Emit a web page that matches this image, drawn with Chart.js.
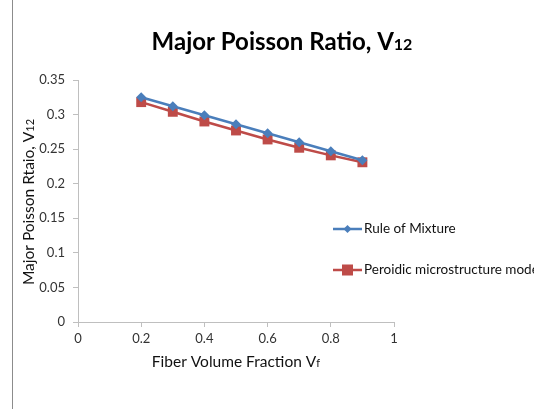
<!DOCTYPE html>
<html>
<head>
<meta charset="utf-8">
<script src="https://cdn.jsdelivr.net/npm/chart.js@4"></script>
<style>
  html, body { margin: 0; padding: 0; background: #fff; }
  #wrap { width: 534px; height: 409px; position: relative; }
</style>
</head>
<body>
<div id="wrap"><canvas id="chart" width="534" height="409"></canvas></div>
<script>
// ===== data =====
const fiberFraction = [0.2, 0.3, 0.4, 0.5, 0.6, 0.7, 0.8, 0.9];
const ruleOfMixture = [0.325, 0.312, 0.299, 0.286, 0.273, 0.260, 0.247, 0.234];
const periodicModel = [0.318, 0.304, 0.290, 0.277, 0.264, 0.252, 0.241, 0.231];
const xTicks = [0, 0.2, 0.4, 0.6, 0.8, 1];
const yTicks = [0, 0.05, 0.1, 0.15, 0.2, 0.25, 0.3, 0.35];
const seriesNames = ['Rule of Mixture', 'Peroidic microstructure mode'];

const FONT = 'Lato, "Open Sans", sans-serif';
const blue = '#4a7ebb';
const red = '#be4b48';

function pts(ys) {
  return fiberFraction.map((x, i) => ({ x: x, y: ys[i] }));
}

// draw "V" + smaller subscript
function drawSub(ctx, base, sub, x, y, size, bold) {
  const w = bold ? 'bold ' : '';
  ctx.font = w + size + 'px ' + FONT;
  const bw = ctx.measureText(base).width;
  ctx.font = w + Math.round(size * 0.68) + 'px ' + FONT;
  const sw = ctx.measureText(sub).width;
  let start = x - (bw + sw) / 2;
  ctx.textAlign = 'left';
  ctx.textBaseline = 'alphabetic';
  ctx.font = w + size + 'px ' + FONT;
  ctx.fillText(base, start, y);
  ctx.font = w + Math.round(size * 0.68) + 'px ' + FONT;
  ctx.fillText(sub, start + bw, y);
}

const extras = {
  id: 'extras',
  afterDraw(chart) {
    const ctx = chart.ctx;
    ctx.save();
    // chart area border on the left
    ctx.strokeStyle = '#8c8c8c';
    ctx.lineWidth = 1;
    ctx.beginPath();
    ctx.moveTo(12.5, 0);
    ctx.lineTo(12.5, 409);
    ctx.stroke();

    ctx.fillStyle = '#000';
    drawSub(ctx, 'Major Poisson Ratio, V', '12', 282, 50, 24, true);

    ctx.fillStyle = '#111';
    drawSub(ctx, 'Fiber Volume Fraction V', 'f', 236, 367, 15.5, false);

    ctx.translate(34, 202);
    ctx.rotate(-Math.PI / 2);
    drawSub(ctx, 'Major Poisson Rtaio, V', '12', 0, 0, 15.5, false);
    ctx.restore();

    // legend
    ctx.save();
    const items = [
      { y: 229, color: blue, shape: 'diamond' },
      { y: 270, color: red, shape: 'square' }
    ];
    items.forEach((it, i) => {
      ctx.strokeStyle = it.color;
      ctx.fillStyle = it.color;
      ctx.lineWidth = 2.5;
      ctx.beginPath();
      ctx.moveTo(333, it.y);
      ctx.lineTo(362, it.y);
      ctx.stroke();
      if (it.shape === 'diamond') {
        ctx.beginPath();
        ctx.moveTo(347.5, it.y - 4);
        ctx.lineTo(351.5, it.y);
        ctx.lineTo(347.5, it.y + 4);
        ctx.lineTo(343.5, it.y);
        ctx.closePath();
        ctx.fill();
      } else {
        ctx.fillRect(342, it.y - 5.5, 11, 11);
      }
      ctx.fillStyle = '#111';
      ctx.font = '13.5px ' + FONT;
      ctx.textAlign = 'left';
      ctx.textBaseline = 'middle';
      ctx.fillText(seriesNames[i], 364, it.y);
    });
    ctx.restore();
  }
};

const chart = document.getElementById('chart');

new Chart(chart, {
  type: 'line',
  data: {
    datasets: [
      {
        label: seriesNames[0],
        data: pts(ruleOfMixture),
        borderColor: blue,
        backgroundColor: blue,
        borderWidth: 2.5,
        pointStyle: 'rectRot',
        pointRadius: 5,
        pointBorderWidth: 0
      },
      {
        label: seriesNames[1],
        data: pts(periodicModel),
        borderColor: red,
        backgroundColor: red,
        borderWidth: 2.5,
        pointStyle: 'rect',
        pointRadius: 7,
        pointBorderWidth: 0
      }
    ]
  },
  options: {
    responsive: false,
    animation: false,
    layout: { padding: { left: 0, top: 80, right: 140, bottom: 0 } },
    plugins: {
      legend: { display: false },
      title: { display: false },
      tooltip: { enabled: false }
    },
    scales: {
      x: {
        type: 'linear',
        min: 0,
        max: 1,
        afterBuildTicks: s => { s.ticks = xTicks.map(v => ({ value: v })); },
        afterFit: s => { s.height = 87; },
        grid: { drawOnChartArea: false, drawTicks: true, tickLength: 5, color: '#bfbfbf' },
        border: { color: '#bfbfbf' },
        ticks: {
          padding: 4,
          color: '#333',
          font: { family: FONT, size: 13 },
          maxRotation: 0,
          callback: v => String(Number(v.toFixed(2)))
        }
      },
      y: {
        min: 0,
        max: 0.35,
        afterBuildTicks: s => { s.ticks = yTicks.map(v => ({ value: v })); },
        afterFit: s => { s.width = 78; },
        grid: { drawOnChartArea: false, drawTicks: true, tickLength: 5, color: '#bfbfbf' },
        border: { color: '#bfbfbf' },
        ticks: {
          padding: 8,
          color: '#333',
          font: { family: FONT, size: 13 },
          callback: v => String(Number(v.toFixed(2)))
        }
      }
    }
  },
  plugins: [extras]
});
</script>
</body>
</html>
